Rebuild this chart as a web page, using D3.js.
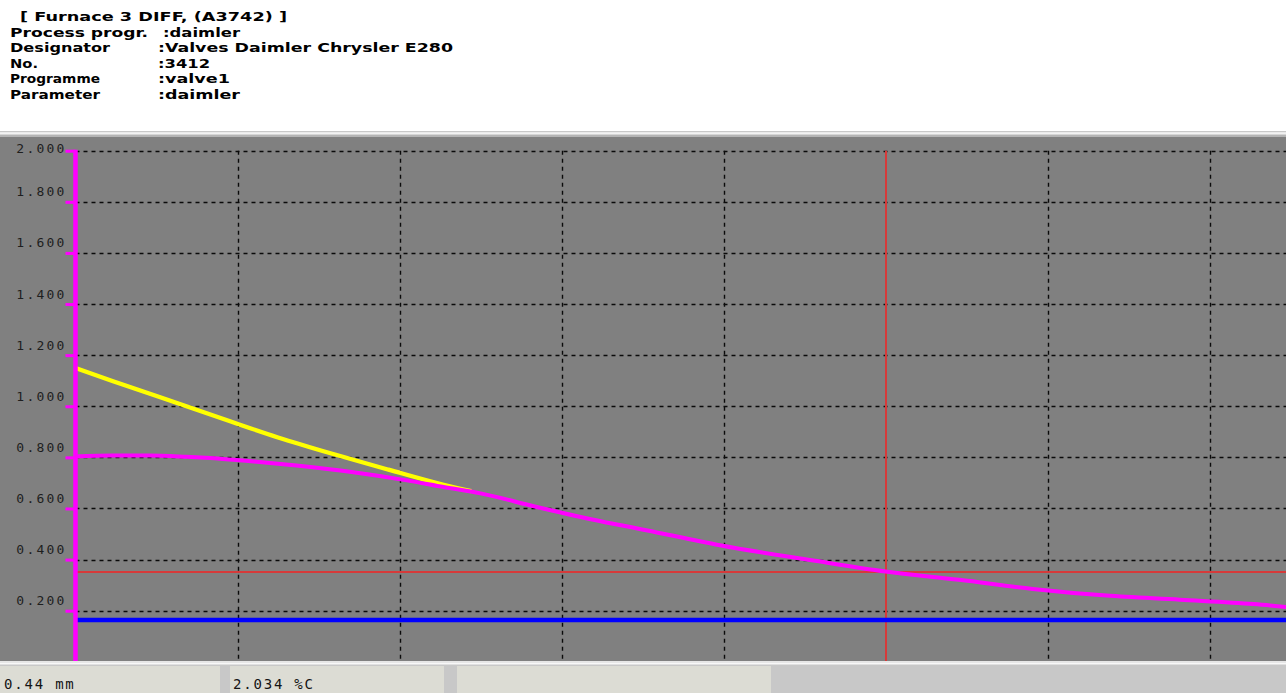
<!DOCTYPE html>
<html>
<head>
<meta charset="utf-8">
<script src="https://cdn.jsdelivr.net/npm/d3@7"></script>
<style>
  html, body { margin: 0; padding: 0; background: #ffffff; overflow: hidden; }
  svg { display: block; }
</style>
</head>
<body>
<svg id="chart" width="1286" height="693"></svg>
<script>
// ---- Header block ----
const headerTitle = "[ Furnace 3 DIFF, (A3742) ]";
const headerLabels = ["Process progr.", "Designator", "No.", "Programme", "Parameter"];
const headerValues = [":daimler", ":Valves Daimler Chrysler E280", ":3412", ":valve1", ":daimler"];

// ---- Carbon profile (depth in mm -> value) ----
const profileDepth = [0, 0.02, 0.04, 0.06, 0.08, 0.10, 0.12, 0.15, 0.18, 0.20, 0.22, 0.25,
                      0.28, 0.31, 0.35, 0.40, 0.44, 0.48, 0.52, 0.56, 0.60, 0.64, 0.66];
const profileValue = [0.803, 0.807, 0.807, 0.802, 0.794, 0.782, 0.768, 0.743, 0.710, 0.684, 0.659, 0.607,
                      0.558, 0.515, 0.456, 0.397, 0.353, 0.321, 0.285, 0.259, 0.243, 0.226, 0.213];

// ---- Upper (yellow) profile near the surface ----
const upperDepth = [0, 0.02, 0.05, 0.08, 0.11, 0.14, 0.17, 0.20, 0.215];
const upperValue = [1.150, 1.099, 1.025, 0.951, 0.878, 0.813, 0.752, 0.693, 0.668];

// ---- Reference lines ----
const cursorDepth = 0.44;
const cursorValue = 0.353;
const limitValue = 0.164;

// ---- Axes ----
const yTicks = [0.2, 0.4, 0.6, 0.8, 1.0, 1.2, 1.4, 1.6, 1.8, 2.0];
const xGrid = [0.088, 0.176, 0.264, 0.352, 0.44, 0.528, 0.616];

// ---- Status bar ----
const statusTexts = ["0.44 mm", "2.034 %C", ""];

const W = 1286, H = 693;
const svg = d3.select("#chart");

// Plot geometry
const plotTop = 137, plotBottom = 661;
const x = d3.scaleLinear().domain([0, 0.704]).range([75.5, 75.5 + 1296]);
const y = d3.scaleLinear().domain([0, 2]).range([661.8, 150.7]);

// Header text (wide bold face: glyphs stretched to the column widths)
const hdr = svg.append("g")
  .attr("font-family", "'DejaVu Sans', sans-serif")
  .attr("font-weight", "bold")
  .attr("font-size", 12)
  .attr("fill", "#000");

hdr.append("text").attr("x", 20).attr("y", 21)
  .attr("textLength", 267).attr("lengthAdjust", "spacingAndGlyphs").text(headerTitle);

const labelW = [138, 100, 28, 90, 90];
const valueX = [163, 158, 158, 158, 158];
const valueW = [77, 295, 52, 72, 82];
headerLabels.forEach((lab, i) => {
  const by = 36.6 + i * 15.6;
  hdr.append("text").attr("x", 10).attr("y", by)
    .attr("textLength", labelW[i]).attr("lengthAdjust", "spacingAndGlyphs").text(lab);
  hdr.append("text").attr("x", valueX[i]).attr("y", by)
    .attr("textLength", valueW[i]).attr("lengthAdjust", "spacingAndGlyphs").text(headerValues[i]);
});

// Separator above plot
svg.append("rect").attr("x", 0).attr("y", 131).attr("width", W).attr("height", 1.5).attr("fill", "#c8c8c8");
svg.append("rect").attr("x", 0).attr("y", 132.5).attr("width", W).attr("height", 2).attr("fill", "#f2f2f2");
svg.append("rect").attr("x", 0).attr("y", 134.5).attr("width", W).attr("height", 2.5).attr("fill", "#b4b4b4");

// Plot background
svg.append("rect").attr("x", 0).attr("y", plotTop).attr("width", W).attr("height", plotBottom - plotTop)
  .attr("fill", "#808080");

// Grid
const grid = svg.append("g").attr("stroke", "#0a0a0a").attr("stroke-width", 1.4)
  .attr("stroke-dasharray", "4,4");
grid.selectAll("line.h").data(yTicks).join("line").attr("class", "h")
  .attr("x1", x(0)).attr("x2", W)
  .attr("y1", d => Math.round(y(d)) + 0.5).attr("y2", d => Math.round(y(d)) + 0.5);
grid.selectAll("line.v").data(xGrid.filter(d => d !== cursorDepth)).join("line").attr("class", "v")
  .attr("x1", d => Math.round(x(d)) + 0.5).attr("x2", d => Math.round(x(d)) + 0.5)
  .attr("y1", y(2)).attr("y2", plotBottom);

// Red cursor lines
svg.append("line").attr("x1", Math.round(x(cursorDepth))).attr("x2", Math.round(x(cursorDepth)))
  .attr("y1", y(2)).attr("y2", plotBottom)
  .attr("stroke", "#d63a3a").attr("stroke-width", 2);
svg.append("line").attr("x1", x(0)).attr("x2", W)
  .attr("y1", Math.round(y(cursorValue))).attr("y2", Math.round(y(cursorValue)))
  .attr("stroke", "#d63a3a").attr("stroke-width", 2);

// Blue limit line
svg.append("line").attr("x1", x(0)).attr("x2", W)
  .attr("y1", y(limitValue)).attr("y2", y(limitValue))
  .attr("stroke", "#0000ff").attr("stroke-width", 4.5);

// Curves
const line = d3.line().x(d => x(d[0])).y(d => y(d[1])).curve(d3.curveMonotoneX);
svg.append("path").datum(d3.zip(upperDepth, upperValue))
  .attr("d", line).attr("fill", "none").attr("stroke", "#ffff00").attr("stroke-width", 4.2);
svg.append("path").datum(d3.zip(profileDepth, profileValue))
  .attr("d", line).attr("fill", "none").attr("stroke", "#ff00ff").attr("stroke-width", 4);

// Left axis (magenta)
const axis = svg.append("g").attr("transform", `translate(${x(0)},0)`)
  .call(d3.axisLeft(y).tickValues(yTicks).tickFormat(d3.format(".3f")).tickSize(10).tickPadding(2));
axis.select(".domain").remove();
axis.append("line").attr("x1", 0).attr("x2", 0).attr("y1", y(2) - 1).attr("y2", plotBottom)
  .attr("stroke", "#ff00ff").attr("stroke-width", 4.5);
axis.selectAll(".tick line").attr("stroke", "#ff00ff").attr("stroke-width", 3);
axis.selectAll(".tick text")
  .attr("font-family", "'DejaVu Sans Mono', monospace")
  .attr("font-size", 13)
  .attr("letter-spacing", 2.2)
  .attr("fill", "#1e1e1e")
  .attr("x", -9)
  .attr("dy", null)
  .attr("dominant-baseline", "alphabetic")
  .attr("y", d => d === 2 ? 2 : -6);

// Bottom separator and status bar
svg.append("rect").attr("x", 0).attr("y", plotBottom).attr("width", W).attr("height", H - plotBottom).attr("fill", "#c8c8c8");
svg.append("rect").attr("x", 0).attr("y", plotBottom).attr("width", W).attr("height", 1.5).attr("fill", "#e6e6e6");
svg.append("rect").attr("x", 0).attr("y", plotBottom + 1.5).attr("width", W).attr("height", 2).attr("fill", "#f8f8f8");
const panels = [[0, 220], [230, 444], [457, 771]];
svg.selectAll("rect.panel").data(panels).join("rect").attr("class", "panel")
  .attr("x", d => d[0]).attr("y", 666).attr("width", d => d[1] - d[0]).attr("height", H - 666)
  .attr("fill", "#dcdcd4");
svg.selectAll("text.status").data(statusTexts).join("text").attr("class", "status")
  .attr("x", (d, i) => panels[i][0] + (i === 0 ? 4 : 3)).attr("y", 688.5)
  .attr("font-family", "'DejaVu Sans Mono', monospace")
  .attr("font-size", 14)
  .attr("letter-spacing", 1.8)
  .attr("fill", "#141414")
  .text(d => d);
</script>
</body>
</html>
